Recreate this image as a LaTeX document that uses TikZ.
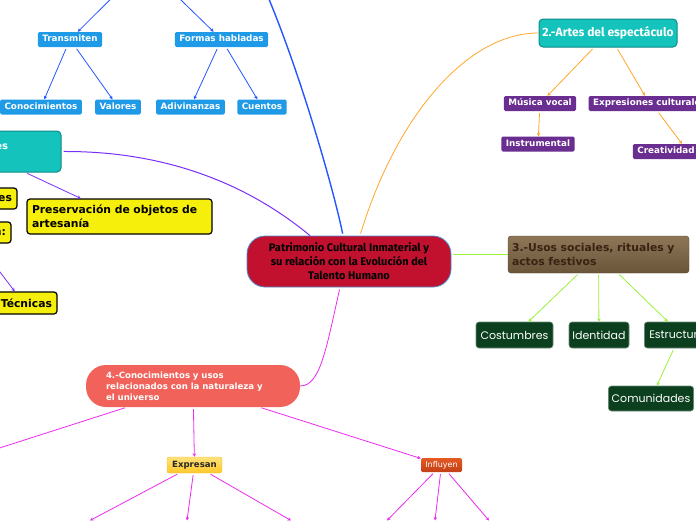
\documentclass[tikz,border=0pt]{standalone}
\usepackage{fontspec}
\setmainfont{DejaVu Sans}
\newfontfamily\firafont{Fira Sans}
\newfontfamily\handfont{Poppins}
\usetikzlibrary{arrows.meta}
\definecolor{oral-blue}{HTML}{1F9AE6}
\definecolor{oral-line}{HTML}{2456FF}
\definecolor{teal-box}{HTML}{15C3BD}
\definecolor{teal-edge}{HTML}{0D8C87}
\definecolor{violet-line}{HTML}{7A2EFA}
\definecolor{craft-yellow}{HTML}{F6EF0C}
\definecolor{core-red}{HTML}{C1112F}
\definecolor{core-edge}{HTML}{4D8FD1}
\definecolor{show-line}{HTML}{FFA62B}
\definecolor{show-purple}{HTML}{6A2D90}
\definecolor{rite-line}{HTML}{9BF03C}
\definecolor{rite-top}{HTML}{8E7758}
\definecolor{rite-bottom}{HTML}{6A553A}
\definecolor{rite-text}{HTML}{3A2212}
\definecolor{rite-green}{HTML}{0B3F1E}
\definecolor{nature-line}{HTML}{EC2BF0}
\definecolor{nature-red}{HTML}{F0625A}
\definecolor{gold-top}{HTML}{FFE27A}
\definecolor{gold-bottom}{HTML}{FFC82A}
\definecolor{gold-edge}{HTML}{F0C040}
\definecolor{influ-top}{HTML}{E55A22}
\definecolor{influ-bottom}{HTML}{C23F17}

\tikzset{
  smallbox/.style={text=white, font=\bfseries\fontsize{8.8}{10}\selectfont,
    rounded corners=1.5pt, inner xsep=4.5pt, inner ysep=0pt, minimum height=15pt,
    text height=6.4pt, text depth=1.9pt},
  bluebox/.style={smallbox, fill=oral-blue},
  showbox/.style={smallbox, fill=show-purple},
  craftbox/.style={fill=craft-yellow, draw=black, line width=1.2pt, rounded corners=3pt,
    font=\bfseries\fontsize{10.8}{14}\selectfont, inner xsep=5pt, inner ysep=0pt},
  tealbox/.style={fill=teal-box, draw=teal-edge, line width=1pt, rounded corners=4pt, text=white},
  ritebox/.style={fill=rite-green, draw=rite-green!60!white, line width=0.6pt, rounded corners=3pt,
    text=white, font=\handfont\fontsize{11}{12}\selectfont, minimum height=26pt},
  link/.style={line width=0.8pt, shorten <=2pt},
  oralline/.style={link, draw=oral-line},
  craftline/.style={link, draw=violet-line},
  showline/.style={link, draw=show-line},
  riteline/.style={link, draw=rite-line},
  natureline/.style={link, draw=nature-line}
}

\begin{document}
\begin{tikzpicture}[x=1pt, y=-1pt, >={Stealth[length=3.5pt,width=3.5pt]}]
\useasboundingbox (0,0) rectangle (696,520);
\clip (0,0) rectangle (696,520);

\node[fill=core-red, draw=core-edge, line width=0.8pt, rounded corners=18pt,
      minimum width=204pt, minimum height=51pt, align=center,
      font=\firafont\bfseries\fontsize{11}{14}\selectfont] (cpi) at (349,261.5)
      {Patrimonio Cultural Inmaterial y\\su relación con la Evolución del\\Talento Humano};

% tradiciones orales
\coordinate (oral) at (145,-35);
\coordinate (oraltop) at (263,-15);
\node[bluebox] (trans) at (70,39.5) {Transmiten};
\node[bluebox] (formas) at (221.5,39.5) {Formas habladas};
\node[bluebox] (conoc) at (41,107) {Conocimientos};
\node[bluebox] (valores) at (118,107) {Valores};
\node[bluebox] (adivin) at (190.5,107) {Adivinanzas};
\node[bluebox] (cuentos) at (262,107) {Cuentos};
\draw[oralline, ->] (oral) -- (trans);
\draw[oralline, ->] (oral) -- (formas);
\draw[oralline, ->] (trans) -- (conoc);
\draw[oralline, ->] (trans) -- (valores);
\draw[oralline, ->] (formas) -- (adivin);
\draw[oralline, ->] (formas) -- (cuentos);
\draw[oralline, line width=1.4pt] ([xshift=-6pt]cpi.north) .. controls (335,195) and (300,70) .. (oraltop);

% tecnicas artesanales
\node[tealbox, minimum width=161pt, minimum height=41pt, text width=55pt, inner xsep=53pt,
      align=right, font=\bfseries\fontsize{10}{12}\selectfont,
      text height=5.6pt, text depth=10pt] (teal) at (-19.5,151.5) {es};
\node[craftbox, minimum width=77pt, minimum height=21pt, text width=67pt, align=right] (craftes) at (-21.5,198.5) {es};
\node[craftbox, minimum width=82pt, minimum height=21pt, text width=72pt, align=right] (clasif) at (-30,232.5) {n:};
\node[craftbox, minimum width=67pt, minimum height=22pt, text width=57pt, align=right] (tecn) at (23.5,303) {Técnicas};
\node[craftbox, minimum height=35pt, text width=175pt, align=left] (preserv) at (119.5,216.5)
      {Preservación de objetos de\\artesanía};
\draw[craftline, ->] (teal) -- (preserv);
\draw[craftline, ->] (clasif) -- (tecn);
\draw[craftline, line width=1pt] (teal.east) .. controls (175,151) and (255,190) .. ([xshift=-39pt]cpi.north);

% artes del espectaculo
\node[tealbox, minimum width=138pt, minimum height=28pt,
      font=\firafont\bfseries\fontsize{12}{14}\selectfont] (artes) at (608,33) {2.-Artes del espectáculo};
\node[showbox] (musica) at (540,103.5) {Música vocal};
\node[showbox] (expcul) at (649.5,103.5) {Expresiones culturales};
\node[showbox] (instr) at (538,144) {Instrumental};
\node[showbox] (creat) at (666,151.5) {Creatividad};
\draw[showline] ([xshift=11pt]cpi.north) .. controls (395,120) and (465,33) .. (artes.west);
\draw[showline, ->] (artes) -- (musica);
\draw[showline, ->] (artes) -- (expcul);
\draw[showline, ->] (musica) -- (instr);
\draw[showline, ->] ([xshift=8pt]expcul.south) -- ([xshift=16pt]creat.north);

% usos sociales
\node[top color=rite-top, bottom color=rite-bottom, draw=rite-bottom!80!black, line width=0.4pt,
      rounded corners=3pt, text=rite-text, font=\bfseries\fontsize{10.8}{13.5}\selectfont,
      text width=173pt, inner xsep=4pt, align=left, minimum height=37pt] (usos) at (598.5,254.5)
      {3.-Usos sociales, rituales y\\actos festivos};
\node[ritebox, minimum width=77pt] (costum) at (514.5,335) {Costumbres};
\node[ritebox, minimum width=60pt] (ident) at (599,335) {Identidad};
\node[ritebox, inner xsep=5pt, anchor=west] (estruc) at (644,335) {Estructura};
\node[ritebox, minimum width=84pt, minimum height=25pt] (comun) at (651,398.5) {Comunidades};
\draw[riteline] ([yshift=7pt]cpi.east) -- (usos.west);
\draw[riteline, ->] (usos) -- (costum);
\draw[riteline, ->] (usos) -- (ident);
\draw[riteline, ->] (usos) -- ([xshift=24pt]estruc.north west);
\draw[riteline, ->] ([xshift=30pt]estruc.south west) -- (comun);

% naturaleza y universo
\node[fill=nature-red, text=white, rounded corners=20pt, minimum width=214pt, minimum height=42pt,
      text width=174pt, inner xsep=20pt, align=left,
      font=\bfseries\fontsize{8.6}{11}\selectfont] (nat) at (193,386)
      {4.-Conocimientos y usos\\relacionados con la naturaleza y\\el universo};
\node[top color=gold-top, bottom color=gold-bottom, draw=gold-edge, text=black!85,
      rounded corners=2pt, minimum width=55pt, minimum height=16pt, inner sep=0pt,
      font=\bfseries\fontsize{8.6}{10}\selectfont] (expr) at (194.5,465) {Expresan};
\node[top color=influ-top, bottom color=influ-bottom, text=white, rounded corners=1.5pt,
      minimum width=41pt, minimum height=14pt, inner sep=0pt,
      font=\fontsize{8}{9}\selectfont] (influ) at (441.5,465) {Influyen};
\coordinate (natleft) at (-63,468);
\coordinate (expa) at (90,520.5);
\coordinate (expb) at (187,520.5);
\coordinate (expc) at (291,520.5);
\coordinate (infa) at (387,520.5);
\coordinate (infb) at (435,520.5);
\coordinate (infc) at (489,520.5);
\draw[natureline] ([xshift=-9pt]cpi.south) .. controls (326,350) and (320,386) .. (nat.east);
\draw[natureline] (nat) -- (natleft);
\draw[natureline, ->] (nat) -- (expr);
\draw[natureline, ->] (nat) -- (influ);
\draw[natureline, ->] (expr) -- (expa);
\draw[natureline, ->] (expr) -- (expb);
\draw[natureline, ->] (expr) -- (expc);
\draw[natureline, ->] (influ) -- (infa);
\draw[natureline, ->] (influ) -- (infb);
\draw[natureline, ->] (influ) -- (infc);
\end{tikzpicture}
\end{document}
